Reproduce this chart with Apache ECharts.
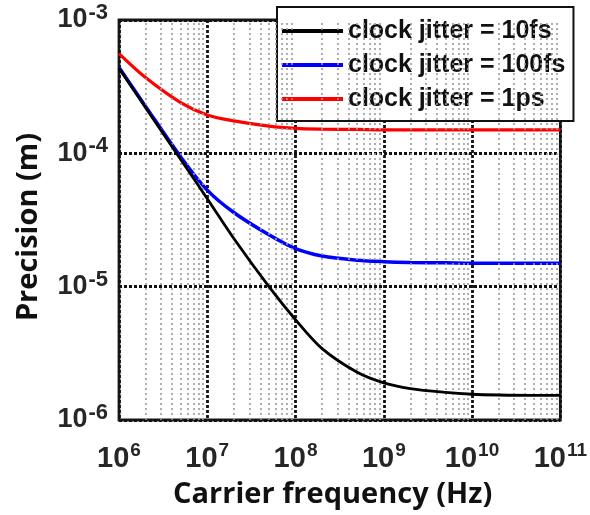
<!DOCTYPE html>
<html>
<head>
<meta charset="utf-8">
<script src="https://cdn.jsdelivr.net/npm/echarts@6/dist/echarts.min.js"></script>
<style>
    html, body { margin: 0; padding: 0; background: #fff; }
    #main { width: 590px; height: 515px; }
</style>
</head>
<body>
<div id="main"></div>
<script>
// carrier frequency (Hz)
const freqs = [1e6, 2e6, 5e6, 1e7, 2e7, 5e7, 1e8, 2e8, 5e8, 1e9, 2e9, 5e9, 1e10, 2e10, 5e10, 1e11];
// precision (m)
const jitter10fs  = [4.35e-4, 2.2e-4, 9.0e-5, 4.57e-5, 2.3e-5, 1.0e-5, 5.65e-6, 3.43e-6, 2.28e-6, 1.9e-6, 1.72e-6, 1.61e-6, 1.56e-6, 1.54e-6, 1.53e-6, 1.53e-6];
const jitter100fs = [4.4e-4, 2.25e-4, 9.4e-5, 5.3e-5, 3.6e-5, 2.45e-5, 1.93e-5, 1.7e-5, 1.58e-5, 1.54e-5, 1.52e-5, 1.51e-5, 1.5e-5, 1.5e-5, 1.5e-5, 1.5e-5];
const jitter1ps   = [5.6e-4, 3.7e-4, 2.4e-4, 1.94e-4, 1.75e-4, 1.6e-4, 1.54e-4, 1.52e-4, 1.51e-4, 1.5e-4, 1.5e-4, 1.5e-4, 1.5e-4, 1.5e-4, 1.5e-4, 1.5e-4];
const seriesNames = ['clock jitter = 10fs', 'clock jitter = 100fs', 'clock jitter = 1ps'];
const seriesColors = ['#000000', '#0000ff', '#ff0000'];
const xDecades = [6, 11];    // 10^6 .. 10^11
const yDecades = [-6, -3];   // 10^-6 .. 10^-3

function pairs(ys) {
    return freqs.map((f, i) => [f, ys[i]]);
}

// minor grid at 2..9 x each decade
function minorValues(range) {
    let out = [];
    for (let e = range[0]; e < range[1]; e++) {
        for (let k = 2; k <= 9; k++) out.push(k * Math.pow(10, e));
    }
    return out;
}

function powLabel(v) {
    let e = Math.round(Math.log10(v));
    return '{b|10}{s|' + e + '}';
}

const labelFont = { fontFamily: 'Liberation Sans', fontWeight: 'bold', color: '#262626' };
const xRich = {
    b: Object.assign({ fontSize: 29 }, labelFont),
    s: Object.assign({ fontSize: 19, padding: [0, 0, 16, 1] }, labelFont)
};
const yRich = {
    b: Object.assign({ fontSize: 27 }, labelFont),
    s: Object.assign({ fontSize: 22, padding: [0, 0, 14, 1] }, labelFont)
};

const minorStyle = { color: '#9a9a9a', type: [2, 3], width: 1.6 };
const majorStyle = { color: '#111', type: [3, 2], width: 2.8 };
const titleFont = { fontFamily: 'Open Sans', fontWeight: 'bold', fontSize: 29, color: '#111', padding: [0, 14, 0, 0] };

let chart = echarts.init(document.getElementById('main'));
let option = {
    animation: false,
    grid: {
        left: 119, right: 27, top: 20, bottom: 95,
        show: true, borderColor: '#1a1a1a', borderWidth: 2.8, backgroundColor: 'transparent'
    },
    legend: {
        data: seriesNames,
        orient: 'vertical',
        left: 277, top: 7,
        padding: [11, 8, 9, 5],
        itemGap: 8,
        icon: 'rect',
        itemWidth: 61, itemHeight: 4,
        backgroundColor: '#fff',
        borderColor: '#111', borderWidth: 2,
        textStyle: { fontFamily: 'Liberation Sans', fontWeight: 'bold', fontSize: 25, color: '#111', lineHeight: 26 }
    },
    xAxis: {
        type: 'log', logBase: 10,
        min: Math.pow(10, xDecades[0]), max: Math.pow(10, xDecades[1]),
        interval: 1,
        name: 'Carrier frequency (Hz)',
        nameLocation: 'middle', nameGap: 60,
        nameTextStyle: titleFont,
        axisLine: { show: false },
        axisTick: { show: false },
        axisLabel: { margin: 21, formatter: powLabel, rich: xRich },
        splitLine: { show: true, lineStyle: majorStyle }
    },
    yAxis: {
        type: 'log', logBase: 10,
        min: Math.pow(10, yDecades[0]), max: Math.pow(10, yDecades[1]),
        interval: 1,
        name: 'Precision (m)',
        nameLocation: 'middle', nameGap: 76,
        nameTextStyle: titleFont,
        axisLine: { show: false },
        axisTick: { show: false },
        axisLabel: { margin: 11, formatter: powLabel, rich: yRich },
        splitLine: { show: true, lineStyle: majorStyle }
    },
    series: [
        {
            name: 'minor-grid', type: 'line', data: [], silent: true, z: 1,
            markLine: {
                silent: true, symbol: 'none', animation: false,
                label: { show: false },
                lineStyle: minorStyle,
                data: minorValues(xDecades).map(v => ({ xAxis: v }))
                    .concat(minorValues(yDecades).map(v => ({ yAxis: v })))
            }
        },
        { name: seriesNames[0], type: 'line', data: pairs(jitter10fs), smooth: 0.3, symbol: 'none', z: 5,
          lineStyle: { color: seriesColors[0], width: 2.8 }, itemStyle: { color: seriesColors[0] } },
        { name: seriesNames[1], type: 'line', data: pairs(jitter100fs), smooth: 0.3, symbol: 'none', z: 4,
          lineStyle: { color: seriesColors[1], width: 3.5 }, itemStyle: { color: seriesColors[1] } },
        { name: seriesNames[2], type: 'line', data: pairs(jitter1ps), smooth: 0.3, symbol: 'none', z: 4,
          lineStyle: { color: seriesColors[2], width: 3.2 }, itemStyle: { color: seriesColors[2] } }
    ]
};
chart.setOption(option);
</script>
</body>
</html>
